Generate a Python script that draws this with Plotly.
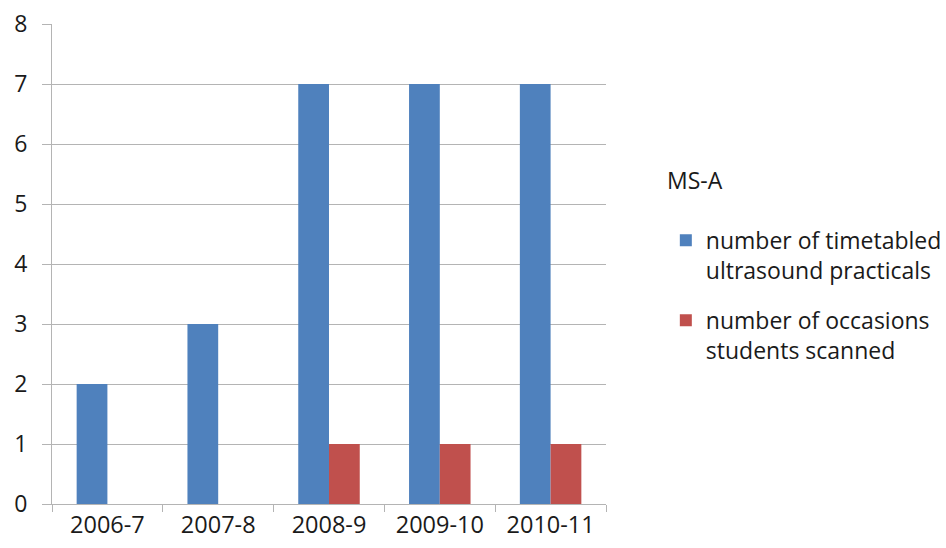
import plotly.graph_objects as go

categories = ["2006-7", "2007-8", "2008-9", "2009-10", "2010-11"]
timetabled = [2, 3, 7, 7, 7]
scanned = [0, 0, 1, 1, 1]
series_names = ["number of timetabled<br>ultrasound practicals",
                "number of occasions<br>students scanned"]
legend_title = "MS-A"

FONT = "Open Sans"
GRID = "#B4B4B4"

fig = go.Figure()
fig.add_trace(go.Bar(x=categories, y=timetabled, name=series_names[0],
                     marker=dict(color="#4F81BD", line=dict(width=0)),
                     legendgroup="a"))
fig.add_trace(go.Bar(x=categories, y=scanned, name=series_names[1],
                     marker=dict(color="#C0504D", line=dict(width=0)),
                     legendgroup="b"))

fig.update_layout(
    width=946, height=548,
    margin=dict(l=52, r=340, t=24, b=44, pad=0, autoexpand=False),
    paper_bgcolor="white", plot_bgcolor="white",
    barmode="group", bargap=0.445, bargroupgap=0,
    font=dict(family=FONT, size=22, color="#1a1a1a"),
    showlegend=True,
    legend=dict(x=1.108, xanchor="left", y=0.594, yanchor="top",
                valign="top", tracegroupgap=17,
                font=dict(family=FONT, size=23, color="#1a1a1a"),
                bgcolor="rgba(0,0,0,0)"),
    annotations=[dict(text=legend_title, xref="paper", yref="paper",
                      x=1.107, y=0.675, xanchor="left", yanchor="middle",
                      showarrow=False,
                      font=dict(family=FONT, size=23, color="#1a1a1a"))],
)
fig.update_xaxes(type="category", automargin=False,
                 showline=True, linecolor=GRID, linewidth=1,
                 ticks="outside", tickson="boundaries", ticklen=7,
                 tickcolor=GRID, showgrid=False, zeroline=False,
                 tickfont=dict(size=23.5))
fig.update_yaxes(range=[0, 8], dtick=1, automargin=False,
                 showline=True, linecolor=GRID,
                 linewidth=1, ticks="outside", ticklen=9, tickcolor=GRID,
                 showgrid=True, gridcolor=GRID, gridwidth=1, zeroline=False,
                 ticklabelstandoff=10, tickfont=dict(size=23))

fig.write_html("out.html", config={"displayModeBar": False},
               post_script="document.body.style.margin='0';")
